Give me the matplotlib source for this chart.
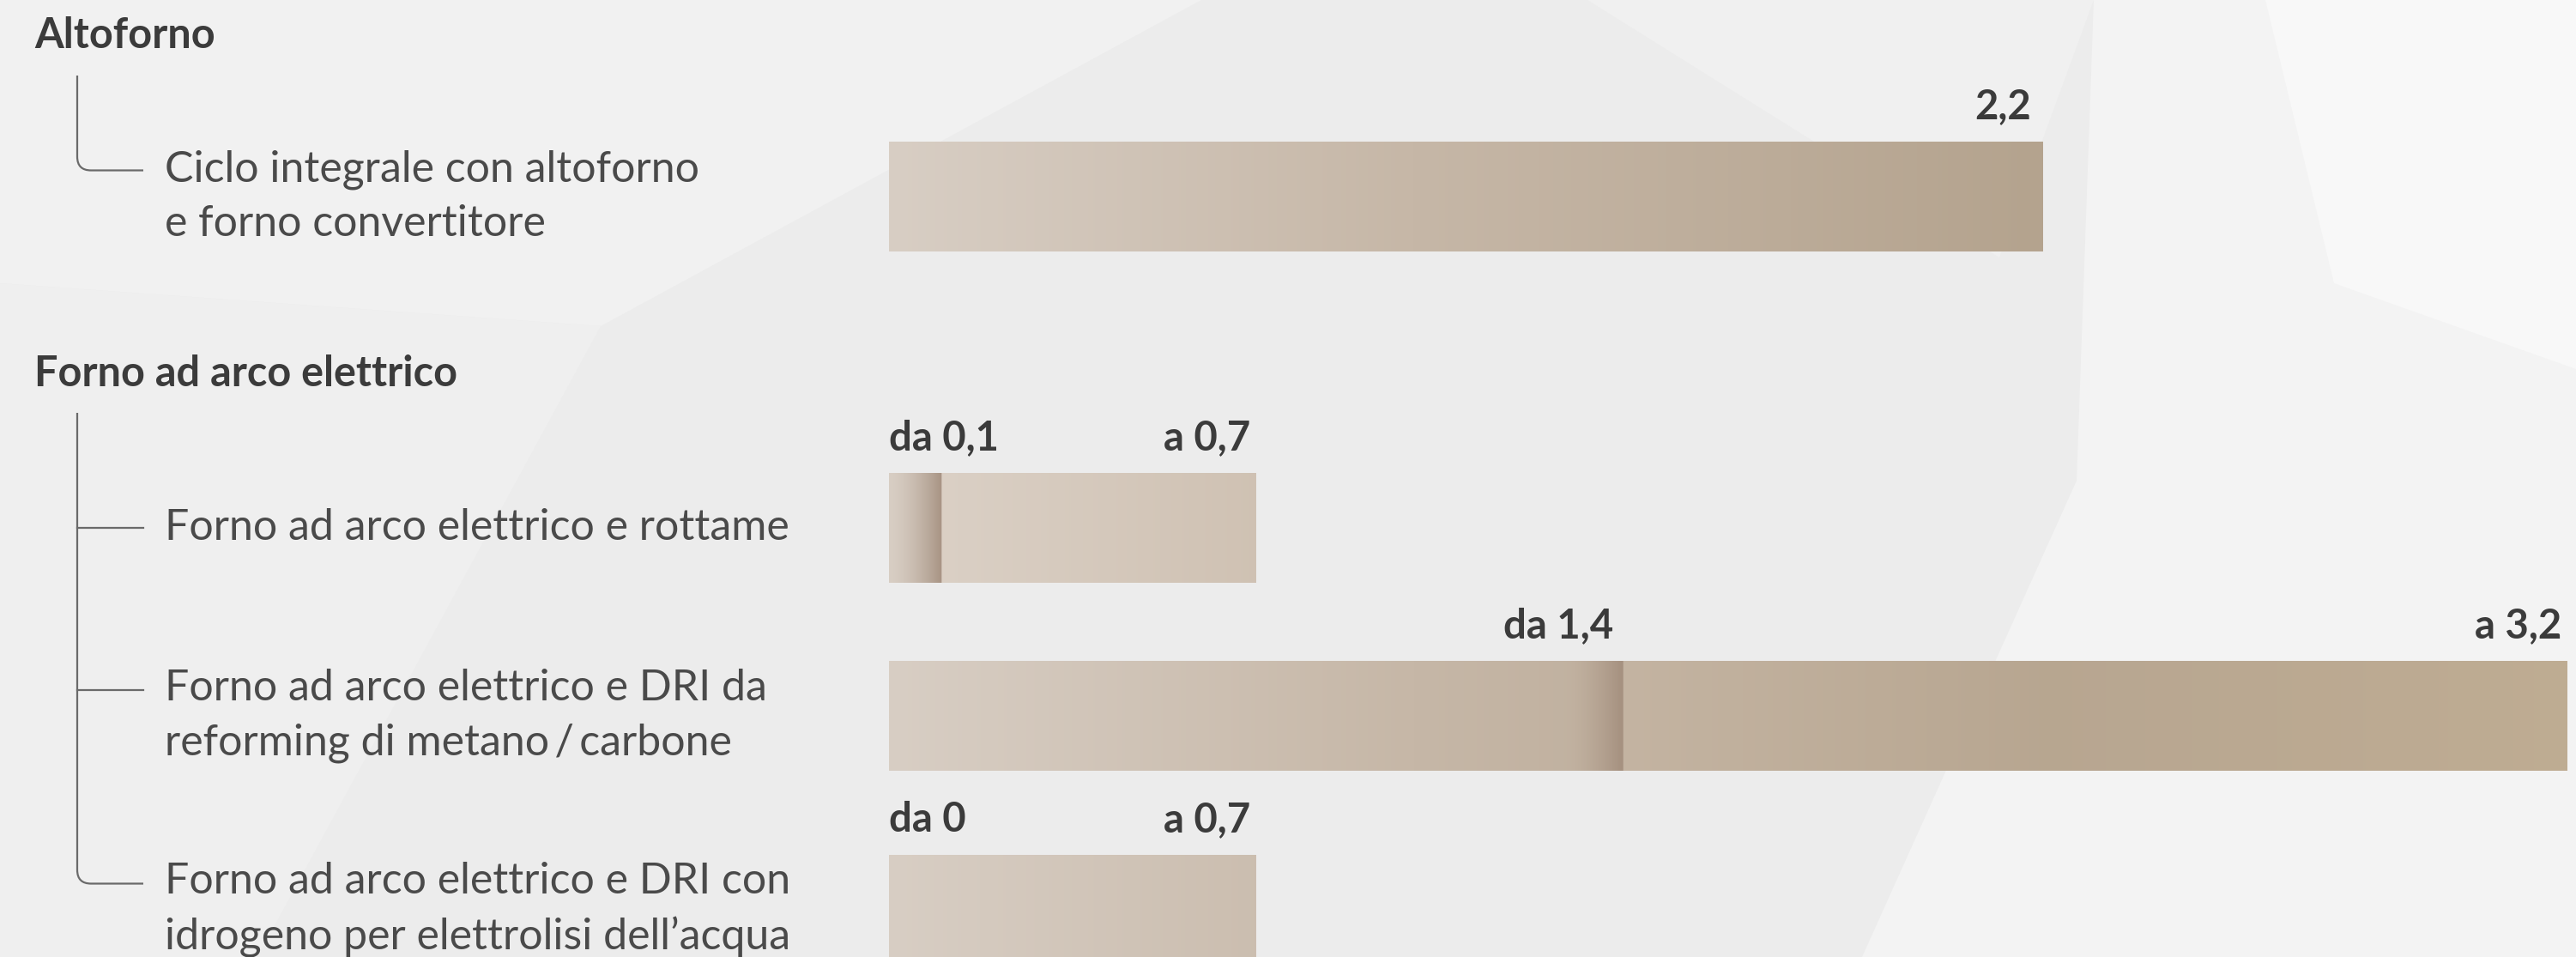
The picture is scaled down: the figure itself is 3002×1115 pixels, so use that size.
import numpy as np
import matplotlib.pyplot as plt
from matplotlib.path import Path
from matplotlib.patches import PathPatch, Polygon
from matplotlib.colors import to_rgb

plt.rcParams['font.family'] = ['Lato', 'DejaVu Sans']

# ---- data ----
group_names = ["Altoforno", "Forno ad arco elettrico"]
process_names = [
    "Ciclo integrale con altoforno\ne forno convertitore",
    "Forno ad arco elettrico e rottame",
    "Forno ad arco elettrico e DRI da\nreforming di metano\u2009/\u2009carbone",
    "Forno ad arco elettrico e DRI con\nidrogeno per elettrolisi dell\u2019acqua",
]
process_group = [0, 1, 1, 1]
range_low = [np.nan, 0.1, 1.4, 0.0]
range_high = [2.2, 0.7, 3.2, 0.7]

# ---- layout (pixels) ----
W, H = 3002, 1115
bar_left = 1036
px_per_unit = 611
row_y = [229, 615, 834, 1060]
bar_h = 128
group_y = [42, 435]
label_x = 192
line_x = 90
tick_end = 167
line_gap = 61

TXT_DARK = "#3b3b3b"
TXT_BODY = "#4a4a4a"
LINE_COL = "#6a6a6a"


def fmt(v):
    return f"{v:.1f}".replace(".", ",") if v % 1 else f"{v:.0f}"


def bar_color(xs):
    stops_v = [0.0, 1.0, 2.2, 3.2]
    stops_c = np.array([to_rgb(c) for c in ["#d8cec4", "#c6b7a7", "#b4a38e", "#bba990"]])
    return np.stack([np.interp(xs, stops_v, stops_c[:, k]) for k in range(3)], axis=-1)


fig = plt.figure(figsize=(W / 100, H / 100), dpi=100)
fig.patch.set_facecolor("#ececec")

# background + text layer in pixel coords
bg = fig.add_axes([0, 0, 1, 1])
bg.set_xlim(0, W)
bg.set_ylim(H, 0)
bg.axis("off")
bg.patch.set_facecolor("#ededed")

facets = [
    ([(0, 0), (1400, 0), (700, 380), (0, 330)], "#f1f1f1"),
    ([(0, 330), (700, 380), (300, H), (0, H)], "#efefef"),
    ([(2440, 0), (W, 0), (W, H), (2170, H), (2420, 560)], "#f3f3f3"),
    ([(2640, 0), (W, 0), (W, 430), (2720, 330)], "#f8f8f8"),
    ([(1850, 0), (2440, 0), (2330, 300)], "#f0f0f0"),
]
for verts, col in facets:
    bg.add_patch(Polygon(verts, closed=True, facecolor=col, edgecolor="none", zorder=0))

# group headers
for name, gy in zip(group_names, group_y):
    bg.text(40, gy, name, fontsize=35, fontweight="bold", color=TXT_DARK,
            ha="left", va="center", zorder=3)

# process labels + connectors
tick_ys = []
for name, y in zip(process_names, row_y):
    n_lines = name.count("\n") + 1
    bg.text(label_x, y, name, fontsize=36, color=TXT_BODY, ha="left", va="center",
            linespacing=1.45, zorder=3)
    tick_ys.append(y - (n_lines - 1) * line_gap / 2)

r = 16
for g, gy in enumerate(group_y):
    members = [t for t, pg in zip(tick_ys, process_group) if pg == g]
    top = gy + 46
    last = members[-1]
    verts = [(line_x, top), (line_x, last - r), (line_x, last), (line_x + r, last), (tick_end, last)]
    codes = [Path.MOVETO, Path.LINETO, Path.CURVE3, Path.CURVE3, Path.LINETO]
    bg.add_patch(PathPatch(Path(verts, codes), facecolor="none", edgecolor=LINE_COL,
                           lw=1.6, zorder=2))
    for t in members[:-1]:
        bg.plot([line_x, tick_end], [t, t], color=LINE_COL, lw=1.6, zorder=2)

# bars layer in value units
ax = fig.add_axes([bar_left / W, 0, (W - bar_left) / W, 1])
ax.set_xlim(0, (W - bar_left) / px_per_unit)
ax.set_ylim(H, 0)
ax.axis("off")
ax.patch.set_alpha(0)

mark_col = np.array(to_rgb("#a08a79"))
for lo, hi, y in zip(range_low, range_high, row_y):
    xs = np.linspace(0, hi, 1200)
    cols = bar_color(xs)
    if not np.isnan(lo) and lo > 0:
        w = min(0.11, lo)
        t = np.clip((xs - (lo - w)) / w, 0, 1)
        t[xs > lo] = 0
        a = (0.85 * t ** 1.6)[:, None]
        cols = cols * (1 - a) + mark_col * a
        # segment right of the marker a touch lighter
        cols[xs > lo] = np.clip(cols[xs > lo] * 1.02, 0, 1)
    ax.imshow(cols[None, :, :], extent=[0, hi, y + bar_h / 2, y - bar_h / 2],
              aspect="auto", interpolation="bilinear", zorder=2)

    ly = y - bar_h / 2 - 41
    if np.isnan(lo):
        ax.text(hi - 0.022, ly, fmt(hi), fontsize=34, fontweight="bold", color=TXT_DARK,
                ha="right", va="center")
    else:
        if lo * px_per_unit < 200:
            ax.text(0, ly, "da " + fmt(lo), fontsize=34, fontweight="bold", color=TXT_DARK,
                    ha="left", va="center")
        else:
            ax.text(lo - 0.018, ly, "da " + fmt(lo), fontsize=34, fontweight="bold",
                    color=TXT_DARK, ha="right", va="center")
        ax.text(hi - 0.01, ly, "a " + fmt(hi), fontsize=34, fontweight="bold", color=TXT_DARK,
                ha="right", va="center")

fig.savefig("out.png", dpi=100, facecolor=fig.get_facecolor())
